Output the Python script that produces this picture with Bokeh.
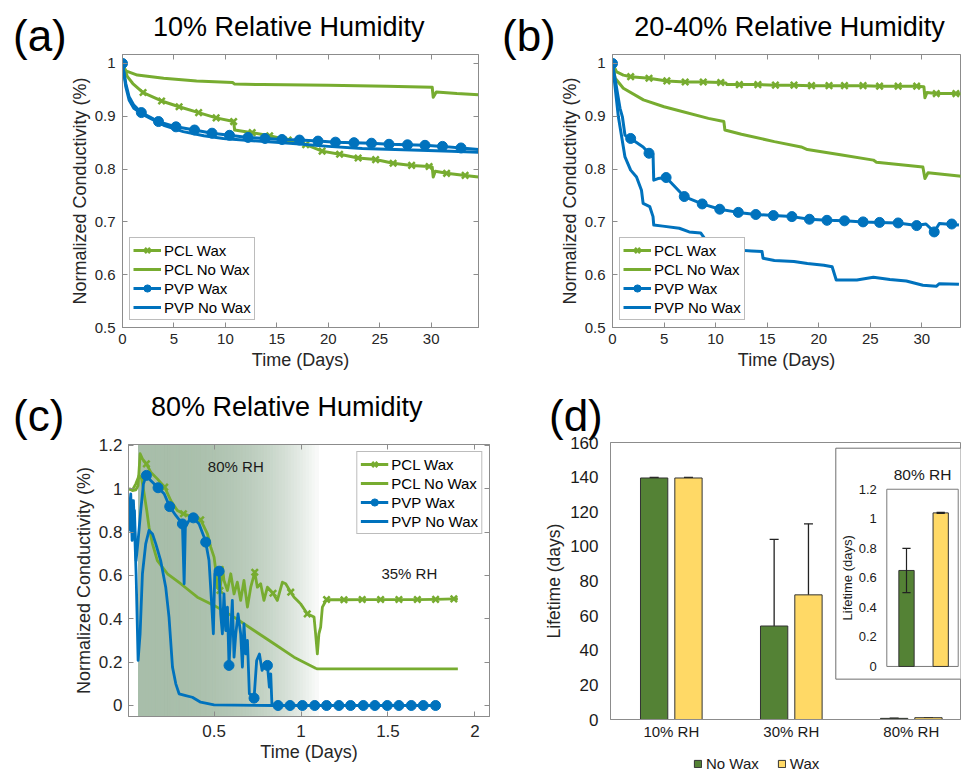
import numpy as np
from bokeh.plotting import figure
from bokeh.models import (Range1d, LinearAxis, FixedTicker, Legend, LegendItem, Div,
                          ColumnDataSource, Whisker, TeeHead)
from bokeh.layouts import row, column
from bokeh.embed import file_html
from bokeh.resources import INLINE
from bokeh.core.properties import value

# ------------------------------------------------------------------ data
# (a) 10% RH
A_PCL_WAX_X = [0, 0.48, 1.0, 2.0, 3.8, 5.5, 7.4, 9.1, 10.8, 10.9, 12.6, 14.3, 16.2, 17.9, 19.4, 21.1,
               22.9, 24.6, 26.3, 28.1, 29.8, 30.1, 30.2, 30.4, 31.5, 33.3, 34.6]
A_PCL_WAX_Y = [1.0, 0.975, 0.962, 0.945, 0.929, 0.918, 0.907, 0.897, 0.890, 0.874, 0.869, 0.863, 0.854,
               0.846, 0.834, 0.828, 0.821, 0.818, 0.811, 0.807, 0.805, 0.804, 0.785, 0.796, 0.792, 0.788, 0.785]
A_PCL_WAX_MX = [2.0, 3.8, 5.5, 7.4, 9.1, 10.8, 12.6, 14.3, 16.1, 17.8, 19.4, 21.1, 22.9, 24.6, 26.3, 28.1,
                29.8, 31.5, 33.3]
A_PCL_WAX_MY = [0.945, 0.929, 0.918, 0.907, 0.897, 0.890, 0.869, 0.863, 0.855, 0.846, 0.834, 0.828, 0.821,
                0.818, 0.811, 0.807, 0.805, 0.792, 0.788]
A_PCL_NOWAX_X = [0, 0.32, 1.44, 4.0, 7.2, 10.7, 10.9, 13.6, 20.0, 25.7, 30.1, 30.2, 30.5, 32.5, 34.6]
A_PCL_NOWAX_Y = [1.0, 0.986, 0.978, 0.972, 0.967, 0.964, 0.961, 0.960, 0.959, 0.957, 0.955, 0.936, 0.946,
                 0.943, 0.941]
A_PVP_WAX_X = [0, 0.32, 0.64, 1.1, 1.83, 3.5, 5.2, 7.0, 8.7, 10.4, 12.2, 13.85, 15.5, 17.2, 19.0, 20.7,
               22.5, 24.2, 25.9, 27.7, 29.4, 31.1, 32.9, 34.6]
A_PVP_WAX_Y = [1.0, 0.962, 0.937, 0.921, 0.907, 0.890, 0.880, 0.874, 0.868, 0.864, 0.860, 0.858, 0.856,
               0.855, 0.853, 0.851, 0.850, 0.849, 0.847, 0.846, 0.845, 0.843, 0.840, 0.837]
A_PVP_WAX_MX = [0, 1.83, 3.5, 5.2, 7.0, 8.7, 10.4, 12.2, 13.85, 15.5, 17.2, 19.0, 20.7, 22.5, 24.2, 25.9,
                27.7, 29.4, 31.1, 32.9]
A_PVP_WAX_MY = [1.0, 0.907, 0.890, 0.880, 0.874, 0.868, 0.864, 0.860, 0.858, 0.856, 0.855, 0.853, 0.851,
                0.850, 0.849, 0.847, 0.846, 0.845, 0.843, 0.840]
A_PVP_NOWAX_X = [0, 0.32, 0.64, 1.1, 2.1, 4.0, 5.9, 7.9, 9.8, 12.3, 14.9, 16.9, 20.0, 23.3, 26.5, 29.7,
                 32.0, 34.6]
A_PVP_NOWAX_Y = [1.0, 0.956, 0.931, 0.915, 0.902, 0.883, 0.871, 0.863, 0.858, 0.854, 0.851, 0.848, 0.843,
                 0.839, 0.837, 0.835, 0.834, 0.832]

# (b) 20-40% RH
B_PCL_WAX_X = [0, 0.4, 1.05, 1.76, 3.54, 5.27, 7.05, 8.8, 10.5, 11.0, 11.1, 12.3, 14.1, 15.8, 17.6, 19.3,
               21.0, 22.5, 24.3, 25.9, 27.7, 29.5, 30.2, 30.3, 30.5, 31.4, 33.3, 34.5]
B_PCL_WAX_Y = [1.0, 0.984, 0.978, 0.975, 0.972, 0.967, 0.965, 0.965, 0.964, 0.963, 0.960, 0.960, 0.960,
               0.959, 0.959, 0.958, 0.958, 0.958, 0.958, 0.957, 0.957, 0.957, 0.956, 0.935, 0.945, 0.943,
               0.943, 0.942]
B_PCL_WAX_MX = [1.76, 3.54, 5.27, 7.05, 8.8, 10.5, 12.3, 14.1, 15.8, 17.6, 19.3, 21.0, 22.5, 24.3, 25.9,
                27.7, 29.5, 31.4, 33.3]
B_PCL_WAX_MY = [0.975, 0.972, 0.967, 0.965, 0.965, 0.964, 0.960, 0.960, 0.959, 0.959, 0.958, 0.958, 0.958,
                0.958, 0.957, 0.957, 0.957, 0.943, 0.943]
B_PCL_NOWAX_X = [0, 0.26, 1.05, 3.0, 5.0, 6.2, 9.3, 10.8, 10.9, 12.5, 15.7, 18.3, 18.9, 22.1, 25.3, 25.6,
                 30.1, 30.3, 30.6, 33.6, 34.5]
B_PCL_NOWAX_Y = [1.0, 0.972, 0.953, 0.931, 0.918, 0.912, 0.896, 0.890, 0.874, 0.866, 0.852, 0.842, 0.837,
                 0.827, 0.817, 0.813, 0.804, 0.782, 0.793, 0.787, 0.785]
B_PVP_WAX_X = [0, 0.73, 0.96, 1.21, 1.76, 2.97, 3.54, 3.93, 4.0, 4.41, 5.2, 6.96, 8.7, 10.4, 12.2, 13.9,
               15.6, 17.4, 19.1, 20.8, 22.5, 24.3, 25.9, 27.7, 29.5, 30.4, 31.2, 31.7, 33.6]
B_PVP_WAX_Y = [1.0, 0.915, 0.899, 0.864, 0.858, 0.842, 0.830, 0.828, 0.779, 0.782, 0.784, 0.748, 0.734,
               0.724, 0.718, 0.714, 0.712, 0.710, 0.705, 0.703, 0.702, 0.700, 0.699, 0.698, 0.693, 0.696,
               0.681, 0.697, 0.694]
B_PVP_WAX_MX = [0, 1.76, 3.54, 5.2, 6.96, 8.7, 10.4, 12.2, 13.9, 15.6, 17.4, 19.1, 20.8, 22.5, 24.3, 25.9,
                27.7, 29.5, 31.2, 32.9]
B_PVP_WAX_MY = [1.0, 0.858, 0.830, 0.784, 0.748, 0.734, 0.724, 0.718, 0.714, 0.712, 0.710, 0.705, 0.703,
                0.702, 0.700, 0.699, 0.698, 0.693, 0.681, 0.696]
B_PVP_NOWAX_X = [0, 0.57, 1.21, 1.76, 2.33, 2.81, 2.97, 3.61, 3.93, 4.0, 4.88, 6.48, 7.44, 8.55, 9.03,
                 10.3, 11.3, 11.9, 13.5, 14.5, 14.6, 15.7, 17.6, 18.9, 20.5, 21.3, 21.7, 23.7, 25.3, 26.9,
                 28.5, 30.1, 31.4, 31.7, 33.6]
B_PVP_NOWAX_Y = [1.0, 0.899, 0.823, 0.798, 0.785, 0.760, 0.735, 0.729, 0.710, 0.694, 0.692, 0.688, 0.681,
                 0.679, 0.666, 0.661, 0.653, 0.647, 0.645, 0.644, 0.631, 0.627, 0.625, 0.621, 0.618, 0.615,
                 0.590, 0.590, 0.595, 0.591, 0.588, 0.580, 0.578, 0.583, 0.582]

# (c) 80% RH
C_RH_PERIOD = [0.066, 1.10]
C_PCL_WAX_X = [0.0115, 0.031, 0.05, 0.063, 0.075, 0.088, 0.111, 0.136, 0.174, 0.216, 0.251, 0.289, 0.324,
               0.385, 0.423, 0.462, 0.481, 0.500, 0.510, 0.519, 0.534, 0.548, 0.557, 0.577, 0.596, 0.615,
               0.634, 0.653, 0.672, 0.692, 0.711, 0.734, 0.749, 0.768, 0.787, 0.807, 0.839, 0.864, 0.893,
               0.912, 0.941, 0.960, 0.979, 0.998, 1.036, 1.075, 1.084, 1.094, 1.103, 1.113, 1.123, 1.147,
               1.247, 1.352, 1.458, 1.563, 1.669, 1.774, 1.879, 1.902]
C_PCL_WAX_Y = [1.0, 0.992, 0.995, 1.015, 1.162, 1.138, 1.115, 1.077, 1.046, 1.008, 0.946, 0.900, 0.885,
               0.869, 0.857, 0.792, 0.731, 0.685, 0.623, 0.546, 0.531, 0.638, 0.577, 0.531, 0.608, 0.515,
               0.569, 0.485, 0.577, 0.454, 0.546, 0.615, 0.546, 0.562, 0.485, 0.546, 0.518, 0.485, 0.569,
               0.562, 0.523, 0.500, 0.485, 0.469, 0.423, 0.408, 0.331, 0.238, 0.331, 0.362, 0.454, 0.489,
               0.488, 0.489, 0.489, 0.489, 0.489, 0.490, 0.492, 0.492]
C_PCL_WAX_MX = [0.111, 0.216, 0.324, 0.423, 0.534, 0.734, 0.839, 0.941, 1.036, 1.147, 1.247, 1.352, 1.458,
                1.563, 1.669, 1.774, 1.879]
C_PCL_WAX_MY = [1.115, 1.008, 0.885, 0.857, 0.531, 0.615, 0.518, 0.523, 0.423, 0.489, 0.488, 0.489, 0.489,
                0.489, 0.489, 0.490, 0.492]
C_PCL_NOWAX_X = [0.0115, 0.031, 0.05, 0.069, 0.084, 0.098, 0.113, 0.126, 0.146, 0.174, 0.232, 0.308, 0.404,
                 0.500, 0.615, 0.730, 0.845, 0.960, 1.084, 1.094, 1.902]
C_PCL_NOWAX_Y = [1.0, 0.995, 1.023, 1.062, 1.046, 0.977, 0.900, 0.823, 0.746, 0.669, 0.608, 0.562, 0.500,
                 0.462, 0.408, 0.346, 0.285, 0.223, 0.172, 0.169, 0.169]
C_PVP_WAX_X = [0.0115, 0.019, 0.0268, 0.0345, 0.0421, 0.0517, 0.0632, 0.0785, 0.0939, 0.111, 0.136, 0.178,
               0.213, 0.245, 0.280, 0.318, 0.328, 0.335, 0.356, 0.381, 0.414, 0.439, 0.452, 0.471, 0.485,
               0.496, 0.504, 0.515, 0.529, 0.538, 0.548, 0.557, 0.567, 0.577, 0.586, 0.605, 0.615, 0.625,
               0.638, 0.653, 0.663, 0.672, 0.682, 0.692, 0.703, 0.720, 0.730, 0.745, 0.761, 0.776, 0.791,
               0.807, 0.818, 0.826, 0.833, 0.868, 0.937, 1.008, 1.079, 1.147, 1.218, 1.285, 1.358, 1.425,
               1.496, 1.563, 1.634, 1.703, 1.774]
C_PVP_WAX_Y = [0.885, 0.808, 0.946, 0.800, 0.900, 0.669, 0.762, 0.900, 1.023, 1.062, 1.038, 1.005, 0.977,
               0.918, 0.877, 0.838, 0.562, 0.823, 0.854, 0.866, 0.838, 0.785, 0.754, 0.669, 0.485, 0.331,
               0.608, 0.631, 0.620, 0.423, 0.331, 0.515, 0.346, 0.454, 0.185, 0.485, 0.223, 0.331, 0.423,
               0.331, 0.177, 0.377, 0.238, 0.300, 0.054, 0.046, 0.034, 0.208, 0.238, 0.162, 0.192, 0.185,
               0.085, 0.146, 0.0, 0.0, 0.0, 0.0, 0.0, 0.0, 0.0, 0.0, 0.0, 0.0, 0.0, 0.0, 0.0, 0.0, 0.0]
C_PVP_WAX_MX = [0.0115, 0.111, 0.178, 0.245, 0.318, 0.381, 0.452, 0.529, 0.586, 0.730, 0.807, 0.868, 0.937,
                1.008, 1.079, 1.147, 1.218, 1.285, 1.358, 1.425, 1.496, 1.563, 1.634, 1.703, 1.774]
C_PVP_WAX_MY = [0.885, 1.062, 1.005, 0.918, 0.838, 0.866, 0.754, 0.620, 0.185, 0.034, 0.185, 0.0, 0.0, 0.0,
                0.0, 0.0, 0.0, 0.0, 0.0, 0.0, 0.0, 0.0, 0.0, 0.0, 0.0]
C_PVP_NOWAX_X = [0.0115, 0.021, 0.0287, 0.0364, 0.044, 0.0517, 0.0632, 0.0747, 0.0881, 0.107, 0.126, 0.146,
                 0.165, 0.193, 0.222, 0.241, 0.261, 0.280, 0.299, 0.337, 0.375, 0.423, 0.500, 0.845]
C_PVP_NOWAX_Y = [0.885, 0.977, 0.762, 0.946, 0.792, 0.608, 0.208, 0.331, 0.608, 0.746, 0.808, 0.792, 0.746,
                 0.669, 0.546, 0.408, 0.177, 0.100, 0.054, 0.046, 0.038, 0.015, 0.003, 0.0]

# (d) lifetime
D_CATS = ["10% RH", "30% RH", "80% RH"]
D_NOWAX = [139.5, 54.0, 0.65]
D_NOWAX_ERR = [0.3, 50.0, 0.15]
D_WAX = [139.5, 72.0, 1.04]
D_WAX_ERR = [0.3, 41.0, 0.004]
D_YTICKS = [0, 20, 40, 60, 80, 100, 120, 140, 160]
INSET_YTICKS = [0, 0.2, 0.4, 0.6, 0.8, 1.0, 1.2]
INSET_YLABELS = ["0", "0.2", "0.4", "0.6", "0.8", "1", "1.2"]

AB_XTICKS = [0, 5, 10, 15, 20, 25, 30]
AB_YTICKS = [0.5, 0.6, 0.7, 0.8, 0.9, 1.0]
AB_YLABELS = ["0.5", "0.6", "0.7", "0.8", "0.9", "1"]
C_XTICKS = [0.5, 1.0, 1.5, 2.0]
C_XLABELS = ["0.5", "1", "1.5", "2"]
C_YTICKS = [0, 0.2, 0.4, 0.6, 0.8, 1.0, 1.2]
C_YLABELS = ["0", "0.2", "0.4", "0.6", "0.8", "1", "1.2"]

# ------------------------------------------------------------------ style
FONT = "Liberation Sans"
GREEN = "#77AC30"
BLUE = "#0072BD"
AXC = "#8c8c8c"
TXT = "#262626"
DKGREEN = "#548235"
YELLOW = "#FFD966"


def style_axis(ax, ticks, labels, fs, hidden=False):
    ax.ticker = FixedTicker(ticks=list(ticks))
    ax.major_tick_in = 5
    ax.major_tick_out = 0
    ax.minor_tick_line_color = None
    ax.axis_line_color = AXC
    ax.major_tick_line_color = AXC
    ax.major_label_text_font = FONT
    if hidden:
        ax.major_label_overrides = {t: "" for t in ticks}
        ax.major_label_text_font_size = "1px"
        ax.major_label_text_color = None
        ax.major_label_standoff = 0
    else:
        ax.major_label_overrides = {t: l for t, l in zip(ticks, labels)}
        ax.major_label_text_font_size = fs
        ax.major_label_text_color = TXT


def axis_label(ax, text, fs, standoff):
    ax.axis_label = text
    ax.axis_label_text_font = FONT
    ax.axis_label_text_font_size = fs
    ax.axis_label_text_font_style = "normal"
    ax.axis_label_text_color = TXT
    ax.axis_label_standoff = standoff


def text_div(width, height, origin, texts, overflow="hidden"):
    """Titles / panel letters as real text; positions given as page pixels of the baseline."""
    ox, oy = origin
    parts = []
    for px, py, txt, fs, align in texts:
        top = py - oy - 0.8465 * fs          # line-height 1 -> baseline at 0.8465 em
        if align == "left":
            pos = "left:%.1fpx;" % (px - ox)
        else:
            pos = "left:%.1fpx;width:800px;text-align:center;" % (px - ox - 400)
        parts.append('<div style="position:absolute;top:%.1fpx;%sfont-family:\'%s\';font-size:%dpx;'
                     'line-height:1;color:#000;white-space:nowrap;">%s</div>' % (top, pos, FONT, fs, txt))
    html = ('<div style="position:relative;width:%dpx;height:%dpx;overflow:%s;">' % (width, height, overflow)
            + "".join(parts) + "</div>")
    return Div(text=html, width=width, height=height, margin=0, styles={"overflow": overflow})


def line_panel(width, height, frame, origin, xr, yr, xticks, xlabels, yticks, ylabels,
               tick_fs, lab_fs, right_axis=True, xstand=6, ystand=7, xlab_st=3, ylab_st=2):
    ox, oy = origin
    fl, ft, fr, fb = frame
    p = figure(width=width, height=height, x_range=Range1d(*xr), y_range=Range1d(*yr),
               output_backend="svg", toolbar_location=None,
               min_border_left=int(round(fl - ox)), min_border_right=int(round(ox + width - fr)),
               min_border_top=int(round(ft - oy)), min_border_bottom=int(round(oy + height - fb)))
    p.grid.visible = False
    p.outline_line_color = AXC
    p.background_fill_color = "white"
    p.border_fill_color = "white"
    style_axis(p.xaxis[0], xticks, xlabels, tick_fs)
    style_axis(p.yaxis[0], yticks, ylabels, tick_fs)
    p.xaxis[0].major_label_standoff = xstand
    p.yaxis[0].major_label_standoff = ystand
    axis_label(p.xaxis[0], "Time (Days)", lab_fs, xlab_st)
    axis_label(p.yaxis[0], "Normalized Conductivity (%)", lab_fs, ylab_st)
    top = LinearAxis()
    style_axis(top, xticks, xlabels, tick_fs, hidden=True)
    p.add_layout(top, "above")
    if right_axis:
        rgt = LinearAxis()
        style_axis(rgt, yticks, ylabels, tick_fs, hidden=True)
        p.add_layout(rgt, "right")
    return p


def series(p, x, y, color, lw=3, marker=None, mx=None, my=None, msize=10):
    rs = [p.line(x, y, line_color=color, line_width=lw, line_join="round")]
    if marker == "x":
        rs.append(p.scatter(mx, my, marker="x", size=msize, line_color=color, line_width=2.5))
    elif marker == "circle":
        rs.append(p.scatter(mx, my, marker="circle", size=msize, fill_color=color, line_color=color))
    return rs


def add_legend(p, items, location):
    lg = Legend(items=[LegendItem(label=l, renderers=r) for l, r in items], location=location,
                label_text_font=FONT, label_text_font_size="15px", label_text_color="black",
                glyph_width=28, glyph_height=18, label_height=18, label_standoff=3, spacing=1,
                padding=3, margin=7, border_line_color="#7a7a7a", border_line_width=1,
                background_fill_color="white", background_fill_alpha=1.0)
    p.add_layout(lg)


# ------------------------------------------------------------------ panel (a)
A_FRAME = (118, 54, 478, 327)
A_XR = (0, 34.6)
A_YR = (0.5, 1.017)
pa = line_panel(424, 328, A_FRAME, (66, 52), A_XR, A_YR, AB_XTICKS, [str(t) for t in AB_XTICKS],
                AB_YTICKS, AB_YLABELS, "15px", "18px")
ra1 = series(pa, A_PCL_WAX_X, A_PCL_WAX_Y, GREEN, marker="x", mx=A_PCL_WAX_MX, my=A_PCL_WAX_MY, msize=9)
ra2 = series(pa, A_PCL_NOWAX_X, A_PCL_NOWAX_Y, GREEN)
ra3 = series(pa, A_PVP_WAX_X, A_PVP_WAX_Y, BLUE, marker="circle", mx=A_PVP_WAX_MX, my=A_PVP_WAX_MY)
ra4 = series(pa, A_PVP_NOWAX_X, A_PVP_NOWAX_Y, BLUE)
add_legend(pa, [("PCL Wax", ra1), ("PCL No Wax", ra2), ("PVP Wax", ra3), ("PVP No Wax", ra4)],
           "bottom_left")
La = text_div(66, 380, (0, 0), [(13, 50.7, "(a)", 44, "left")])
Ta = text_div(424, 52, (66, 0), [(288.7, 36.7, "10% Relative Humidity", 27, "center")])

# ------------------------------------------------------------------ panel (b)
B_FRAME = (609, 54, 960, 327)
B_XR = (0, 33.75)
B_YR = (0.5, 1.017)
pb = line_panel(405, 328, B_FRAME, (556, 52), B_XR, B_YR, AB_XTICKS, [str(t) for t in AB_XTICKS],
                AB_YTICKS, AB_YLABELS, "15px", "18px", right_axis=False)
rb1 = series(pb, B_PCL_WAX_X, B_PCL_WAX_Y, GREEN, marker="x", mx=B_PCL_WAX_MX, my=B_PCL_WAX_MY, msize=9)
rb2 = series(pb, B_PCL_NOWAX_X, B_PCL_NOWAX_Y, GREEN)
rb3 = series(pb, B_PVP_WAX_X, B_PVP_WAX_Y, BLUE, marker="circle", mx=B_PVP_WAX_MX, my=B_PVP_WAX_MY)
rb4 = series(pb, B_PVP_NOWAX_X, B_PVP_NOWAX_Y, BLUE)
add_legend(pb, [("PCL Wax", rb1), ("PCL No Wax", rb2), ("PVP Wax", rb3), ("PVP No Wax", rb4)],
           "bottom_left")
Lb = text_div(66, 380, (490, 0), [(502, 50.7, "(b)", 44, "left")])
Tb = text_div(405, 52, (556, 0), [(789.5, 36.7, "20-40% Relative Humidity", 27, "center")])

# ------------------------------------------------------------------ panel (c)
C_FRAME = (127.7, 444, 489, 716)
C_XR = (0.008, 2.084)
C_YR = (-0.0508, 1.2046)
pc = line_panel(434, 337, C_FRAME, (66, 435), C_XR, C_YR, C_XTICKS, C_XLABELS, C_YTICKS, C_YLABELS,
                "17px", "18px", xstand=8, ystand=6, xlab_st=2, ylab_st=2)
s0, s1 = C_RH_PERIOD
n = 60
edges = np.linspace(s0, s1, n + 1)
c0 = np.array([168, 190, 170])
c1 = np.array([250, 251, 250])
cols = []
for i in range(n):
    t = (i + 0.5) / n
    c = c0 + (c1 - c0) * t ** 3
    cols.append("#%02x%02x%02x" % tuple(int(round(v)) for v in c))
pc.quad(left=edges[:-1], right=edges[1:], bottom=C_YR[0], top=C_YR[1], fill_color=cols,
        line_color=cols, line_width=1.2)
rc1 = series(pc, C_PCL_WAX_X, C_PCL_WAX_Y, GREEN, lw=2.8, marker="x", mx=C_PCL_WAX_MX, my=C_PCL_WAX_MY,
             msize=9)
rc2 = series(pc, C_PCL_NOWAX_X, C_PCL_NOWAX_Y, GREEN, lw=2.8)
rc3 = series(pc, C_PVP_WAX_X, C_PVP_WAX_Y, BLUE, lw=2.8, marker="circle", mx=C_PVP_WAX_MX, my=C_PVP_WAX_MY)
rc4 = series(pc, C_PVP_NOWAX_X, C_PVP_NOWAX_Y, BLUE, lw=2.8)
add_legend(pc, [("PCL Wax", rc1), ("PCL No Wax", rc2), ("PVP Wax", rc3), ("PVP No Wax", rc4)],
           "top_right")
pc.text(x=[0.625, 1.623], y=[1.104, 0.608], text=["80% RH", "35% RH"], text_font=value(FONT),
        text_font_size="15px", text_align="center", text_baseline="middle", text_color="#1a1a1a")
Lc = text_div(66, 392, (0, 380), [(13, 431, "(c)", 44, "left")])
Tc = text_div(434, 55, (66, 380), [(286.7, 417, "80% Relative Humidity", 27, "center")])

# ------------------------------------------------------------------ panel (d)
D_XR = (0.4933, 3.41)
D_YR = (0, 160)
pd_ = figure(width=461, height=310, x_range=Range1d(*D_XR), y_range=Range1d(*D_YR),
             output_backend="svg", toolbar_location=None,
             min_border_left=110, min_border_right=1, min_border_top=9, min_border_bottom=24)
pd_.grid.visible = False
pd_.outline_line_color = AXC
pd_.background_fill_color = "white"
pd_.border_fill_alpha = 0
pos = [i + 1 for i in range(len(D_CATS))]
for ax, ticks, labels, fs in [(pd_.xaxis[0], pos, D_CATS, "15px"),
                              (pd_.yaxis[0], D_YTICKS, [str(t) for t in D_YTICKS], "17px")]:
    ax.ticker = FixedTicker(ticks=ticks)
    ax.major_label_overrides = {t: l for t, l in zip(ticks, labels)}
    ax.major_tick_line_color = None
    ax.major_tick_in = 0
    ax.major_tick_out = 0
    ax.minor_tick_line_color = None
    ax.axis_line_color = AXC
    ax.major_label_text_font = FONT
    ax.major_label_text_font_size = fs
    ax.major_label_text_color = "#1a1a1a"
pd_.xaxis[0].major_label_standoff = 3
pd_.yaxis[0].major_label_standoff = 12
axis_label(pd_.yaxis[0], "Lifetime (days)", "17.5px", 3)

BW = 0.2275
OFF = 0.143
x_nw = [c - OFF for c in pos]
x_w = [c + OFF for c in pos]
pd_.vbar(x=x_nw, top=D_NOWAX, width=BW, fill_color=DKGREEN, line_color="#333333", line_width=1)
pd_.vbar(x=x_w, top=D_WAX, width=BW, fill_color=YELLOW, line_color="#333333", line_width=1)
err_src = ColumnDataSource(dict(
    x=x_nw + x_w,
    lower=[v - e for v, e in zip(D_NOWAX, D_NOWAX_ERR)] + [v - e for v, e in zip(D_WAX, D_WAX_ERR)],
    upper=[v + e for v, e in zip(D_NOWAX, D_NOWAX_ERR)] + [v + e for v, e in zip(D_WAX, D_WAX_ERR)]))
pd_.add_layout(Whisker(base="x", lower="lower", upper="upper", source=err_src, line_color="#222222",
                       line_width=1.3,
                       upper_head=TeeHead(size=9, line_color="#222222", line_width=1.3),
                       lower_head=TeeHead(size=9, line_color="#222222", line_width=1.3)))

# inset (80% RH zoom) drawn through its own extra ranges
IX = (-7.655, 2.579)
IY = (-0.3593, 1.5166)
pd_.extra_x_ranges = {"ix": Range1d(*IX)}
pd_.extra_y_ranges = {"iy": Range1d(*IY)}
pd_.quad(left=[-1.067], right=[3.0], bottom=[-0.086], top=[1.478], fill_color="white",
         line_color="#6e6e6e", line_width=1, x_range_name="ix", y_range_name="iy")
pd_.quad(left=[0.424], right=[2.512], bottom=[0], top=[1.2], fill_color="white",
         line_color="#7a7a7a", line_width=1, x_range_name="ix", y_range_name="iy")
inset_x = [1, 2]
inset_v = [D_NOWAX[2], D_WAX[2]]
inset_e = [D_NOWAX_ERR[2], D_WAX_ERR[2]]
pd_.vbar(x=inset_x, top=inset_v, width=0.447, fill_color=[DKGREEN, YELLOW], line_color="#333333",
         line_width=1, x_range_name="ix", y_range_name="iy")
ins_lo = [v - e for v, e in zip(inset_v, inset_e)]
ins_hi = [v + e for v, e in zip(inset_v, inset_e)]
CAP = 0.12  # cap half-width in inset x units
pd_.segment(x0=inset_x, y0=ins_lo, x1=inset_x, y1=ins_hi, line_color="#222222", line_width=1.2,
            x_range_name="ix", y_range_name="iy")
pd_.segment(x0=[x - CAP for x in inset_x] * 2, y0=ins_lo + ins_hi,
            x1=[x + CAP for x in inset_x] * 2, y1=ins_lo + ins_hi,
            line_color="#222222", line_width=1.2, x_range_name="ix", y_range_name="iy")
pd_.text(x=[0.424] * len(INSET_YTICKS), y=INSET_YTICKS, text=INSET_YLABELS, x_offset=-10,
         text_font=value(FONT), text_font_size="13px", text_align="right", text_baseline="middle",
         text_color="#1a1a1a", x_range_name="ix", y_range_name="iy")
pd_.text(x=[-0.734], y=[0.6], text=["Lifetime (days)"], angle=np.pi / 2, text_font=value(FONT),
         text_font_size="13px", text_align="center", text_baseline="middle", text_color="#1a1a1a",
         x_range_name="ix", y_range_name="iy")
pd_.text(x=[1.468], y=[1.302], text=["80% RH"], text_font=value(FONT), text_font_size="15.5px",
         text_align="center", text_baseline="middle", text_color="#1a1a1a",
         x_range_name="ix", y_range_name="iy")

Td = text_div(461, 53, (500, 380), [(549, 431, "(d)", 44, "left")], overflow="visible")

# legend strip for (d): its entries stand for the same two bar series (not drawn here)
Ld = figure(width=461, height=29, x_range=Range1d(0, 1), y_range=Range1d(0, 1), output_backend="svg",
            toolbar_location=None, x_axis_type=None, y_axis_type=None, min_border=0,
            outline_line_color=None)
Ld.grid.visible = False
leg_nw = Ld.vbar(x=x_nw, top=D_NOWAX, width=BW, fill_color=DKGREEN, line_color="#333333",
                 line_width=1, visible=False)
leg_w = Ld.vbar(x=x_w, top=D_WAX, width=BW, fill_color=YELLOW, line_color="#333333",
                line_width=1, visible=False)
Ld.add_layout(Legend(items=[LegendItem(label="No Wax", renderers=[leg_nw]),
                            LegendItem(label="Wax", renderers=[leg_w])],
                     orientation="horizontal", location=(83, 0), glyph_width=9, glyph_height=9,
                     label_standoff=4, spacing=18, padding=0, margin=0, border_line_color=None,
                     background_fill_alpha=0, inactive_fill_alpha=0, label_text_font=FONT,
                     label_text_font_size="15px", label_text_color="#1a1a1a", label_height=18))

layout = column(row(La, column(Ta, pa), Lb, column(Tb, pb)),
                row(Lc, column(Tc, pc), column(Td, pd_, Ld)))
open("out.html", "w").write(file_html(layout, INLINE))
